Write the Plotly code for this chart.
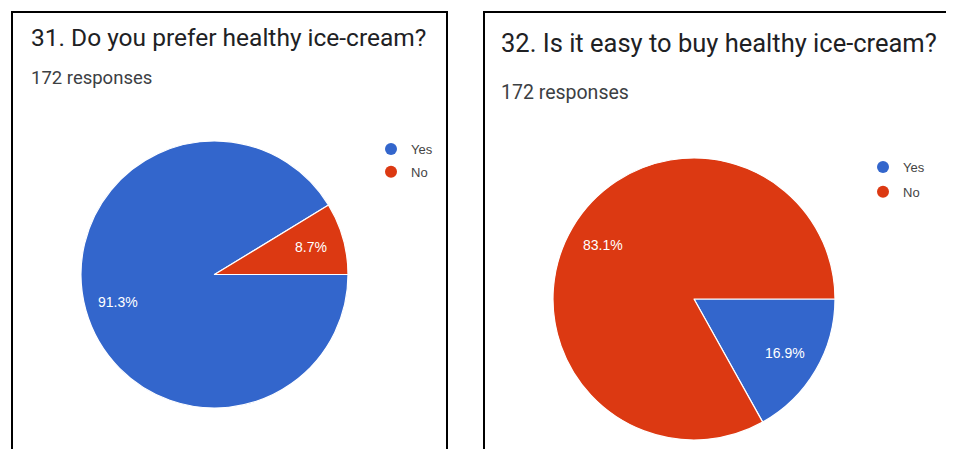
import math
import plotly.graph_objects as go

# ---- data ----
labels = ["Yes", "No"]
q31_title = "31. Do you prefer healthy ice-cream?"
q31_values = [91.3, 8.7]
q32_title = "32. Is it easy to buy healthy ice-cream?"
q32_values = [16.9, 83.1]
responses = "172 responses"
colors = ["#3366CC", "#DC3912"]

# page has an 8px body margin: figure is drawn offset by (8, 8)
OFF = 8
W, H = 954 - OFF, 449 - OFF


def px_x(x):
    return (x - OFF) / W


def px_y(y):
    return 1 - (y - OFF) / H


fig = go.Figure()

pie_common = dict(
    labels=labels,
    sort=False,
    direction="clockwise",
    rotation=90,
    marker=dict(colors=colors, line=dict(color="white", width=1.2)),
    textinfo="none",
    showlegend=False,
    hoverinfo="label+percent",
)

pies = [
    (q31_values, (81, 348), (141, 408)),
    (q32_values, (553, 835), (158, 440)),
]

annotations = []
for values, (xa, xb), (ya, yb) in pies:
    fig.add_trace(go.Pie(values=values,
                         domain=dict(x=[px_x(xa), px_x(xb)], y=[px_y(yb), px_y(ya)]),
                         **pie_common))
    # percentage labels placed at 3/4 radius on each slice's mid-angle
    cx, cy = (xa + xb) / 2, (ya + yb) / 2
    r = min(xb - xa, yb - ya) / 2
    total = sum(values)
    cum = 0.0
    for v in values:
        mid = -(cum + v / 2) / total * 2 * math.pi  # clockwise from 3 o'clock
        cum += v
        tx = cx + 0.75 * r * math.cos(mid)
        ty = cy - 0.75 * r * math.sin(mid)
        annotations.append(dict(
            text=f"{v / total * 100:.1f}%", x=px_x(tx), y=px_y(ty),
            xref="paper", yref="paper", xanchor="center", yanchor="middle",
            showarrow=False,
            font=dict(family="Arial, Liberation Sans, sans-serif", size=14, color="white"),
        ))

# legend entries with circular markers
for i, lab in enumerate(labels):
    fig.add_trace(go.Scatter(x=[None], y=[None], mode="markers", name=lab,
                             marker=dict(color=colors[i], size=12, symbol="circle"),
                             legend="legend", legendgroup="a" + lab,
                             xaxis="x", yaxis="y", hoverinfo="skip"))
for i, lab in enumerate(labels):
    fig.add_trace(go.Scatter(x=[None], y=[None], mode="markers", name=lab,
                             marker=dict(color=colors[i], size=12, symbol="circle"),
                             legend="legend2", legendgroup="b" + lab,
                             xaxis="x", yaxis="y", hoverinfo="skip"))

legend_common = dict(
    font=dict(family="Arial, Liberation Sans, sans-serif", size=13, color="#444444"),
    bgcolor="rgba(0,0,0,0)",
    itemclick=False,
    xanchor="left", yanchor="top",
)

shapes = [
    dict(type="rect", xref="paper", yref="paper",
         x0=px_x(12), x1=px_x(447), y0=px_y(470), y1=px_y(12),
         line=dict(color="black", width=2), fillcolor="rgba(0,0,0,0)"),
    dict(type="rect", xref="paper", yref="paper",
         x0=px_x(484), x1=px_x(980), y0=px_y(470), y1=px_y(12),
         line=dict(color="black", width=2), fillcolor="rgba(0,0,0,0)"),
]


def tfont(size):
    return dict(family="Roboto, Arial, sans-serif", size=size, color="#202124")


def sfont(size):
    return dict(family="Roboto, Arial, sans-serif", size=size, color="#3c4043")


annotations += [
    dict(text=q31_title, x=px_x(29), y=px_y(37), xref="paper", yref="paper",
         xanchor="left", yanchor="middle", showarrow=False, font=tfont(24.5)),
    dict(text=responses, x=px_x(29), y=px_y(78), xref="paper", yref="paper",
         xanchor="left", yanchor="middle", showarrow=False, font=sfont(18.5)),
    dict(text=q32_title, x=px_x(499), y=px_y(43), xref="paper", yref="paper",
         xanchor="left", yanchor="middle", showarrow=False, font=tfont(25.5)),
    dict(text=responses, x=px_x(499), y=px_y(92), xref="paper", yref="paper",
         xanchor="left", yanchor="middle", showarrow=False, font=sfont(19.5)),
]

fig.update_layout(
    width=W, height=H,
    margin=dict(l=0, r=0, t=0, b=0),
    paper_bgcolor="white",
    plot_bgcolor="white",
    xaxis=dict(visible=False, domain=[0, 0.01]),
    yaxis=dict(visible=False, domain=[0, 0.01]),
    legend=dict(x=px_x(371), y=px_y(134), tracegroupgap=3, **legend_common),
    legend2=dict(x=px_x(863), y=px_y(152), tracegroupgap=5, **legend_common),
    shapes=shapes,
    annotations=annotations,
)

fig.write_html("out.html")
